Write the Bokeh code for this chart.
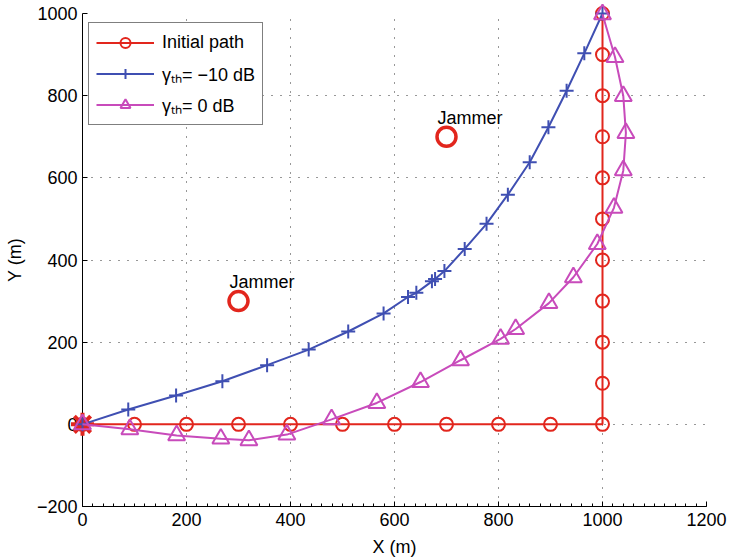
from bokeh.plotting import figure
from bokeh.models import Range1d, FixedTicker, Legend, LegendItem
from bokeh.embed import file_html
from bokeh.resources import INLINE
from bokeh.core.properties import value

# ---------------- data ----------------
init_x = [0, 100, 200, 300, 400, 500, 600, 700, 800, 900, 1000,
          1000, 1000, 1000, 1000, 1000, 1000, 1000, 1000, 1000, 1000]
init_y = [0, 0, 0, 0, 0, 0, 0, 0, 0, 0, 0,
          100, 200, 300, 400, 500, 600, 700, 800, 900, 1000]

m10_x = [0, 88, 180, 269, 355, 435, 511, 579, 626, 642, 672, 678, 696,
         735, 777, 818, 860, 896, 931, 965, 1000]
m10_y = [0, 36, 70, 105, 144, 182, 226, 270, 310, 320, 348, 354, 373,
         427, 488, 559, 638, 723, 812, 903, 1000]

z0_x = [0, 91, 181, 266, 320, 393, 479, 566, 650, 727, 804, 833, 897,
        944, 990, 1022, 1040, 1045, 1040, 1024, 1000]
z0_y = [0, -12, -27, -35, -39, -25, 12, 52, 103, 156, 208, 232, 295,
        358, 439, 527, 618, 709, 799, 894, 998]

start_x = [0]
start_y = [0]

jam_x = [300, 700]
jam_y = [300, 700]
jam_text = ["Jammer", "Jammer"]

x_ticks = [0, 200, 400, 600, 800, 1000, 1200]
y_ticks = [-200, 0, 200, 400, 600, 800, 1000]
y_labels = {-200: "\u2212200"}

labels = ["Initial path", "\u03b3\u209c\u2095= \u221210 dB", "\u03b3\u209c\u2095= 0 dB"]

# ---------------- style ----------------
RED = "#e2261d"
BLUE = "#3f4fb2"
MAG = "#c84bbb"
FONT = "Liberation Sans"

p = figure(width=731, height=559, output_backend="svg", toolbar_location=None,
           x_range=Range1d(0, 1200), y_range=Range1d(-200, 1000),
           min_border_left=82, min_border_right=25, min_border_top=13,
           min_border_bottom=53)
p.outline_line_color = None
p.background_fill_color = "white"
p.border_fill_color = "white"

# axes
p.xaxis.ticker = FixedTicker(ticks=x_ticks, minor_ticks=list(range(0, 1201, 20)))
p.yaxis.ticker = FixedTicker(ticks=y_ticks)
p.yaxis.major_label_overrides = y_labels
for ax in (p.xaxis[0], p.yaxis[0]):
    ax.axis_line_color = "black"
    ax.axis_line_width = 1
    ax.major_tick_in = 5
    ax.major_tick_out = 0
    ax.major_tick_line_color = "black"
    ax.minor_tick_in = 3
    ax.minor_tick_out = 0
    ax.minor_tick_line_color = "black"
    ax.major_label_text_font = FONT
    ax.major_label_text_font_size = "18px"
    ax.major_label_text_color = "black"
    ax.axis_label_text_font = FONT
    ax.axis_label_text_font_size = "18px"
    ax.axis_label_text_font_style = "normal"
    ax.axis_label_text_color = "black"
p.yaxis.minor_tick_line_color = None
p.xaxis.axis_label = "X (m)"
p.yaxis.axis_label = "Y (m)"
p.xaxis.major_label_standoff = 6
p.yaxis.major_label_standoff = 5
p.xaxis.axis_label_standoff = 8
p.yaxis.axis_label_standoff = 9

for g in (p.xgrid[0], p.ygrid[0]):
    g.grid_line_color = "#303030"
    g.grid_line_dash = "1 8"
    g.grid_line_width = 1
p.xgrid.ticker = FixedTicker(ticks=x_ticks)
p.ygrid.ticker = FixedTicker(ticks=y_ticks)

# ---------------- marks ----------------
LV = "overlay"
r_init_l = p.line(init_x, init_y, line_color=RED, line_width=2, level=LV)
r_init_m = p.scatter(init_x, init_y, marker="circle", size=13,
                     line_color=RED, fill_color=None, line_width=2, level=LV)
r_star = p.scatter(start_x, start_y, marker="asterisk", size=23,
                   line_color=RED, line_width=4, level=LV)
r_m10_l = p.line(m10_x, m10_y, line_color=BLUE, line_width=2, level=LV)
r_m10_m = p.scatter(m10_x, m10_y, marker="cross", size=14,
                    line_color=BLUE, line_width=2, level=LV)
r_z0_l = p.line(z0_x, z0_y, line_color=MAG, line_width=2, level=LV)
r_z0_m = p.scatter(z0_x, z0_y, marker="triangle", size=17,
                   line_color=MAG, fill_color=None, line_width=2, level=LV)

p.scatter(jam_x, jam_y, marker="circle", size=19, line_color=RED,
          fill_color=None, line_width=3.5, level=LV)
p.text(jam_x, jam_y, text=jam_text, x_offset=-9, y_offset=-19,
       text_font=value(FONT), text_font_size="18px", text_color="black",
       text_baseline="alphabetic", text_align="left", level=LV)

legend = Legend(items=[
    LegendItem(label=labels[0], renderers=[r_init_l, r_init_m]),
    LegendItem(label=labels[1], renderers=[r_m10_l, r_m10_m]),
    LegendItem(label=labels[2], renderers=[r_z0_l, r_z0_m]),
], location=(6, 381))
legend.label_text_font = FONT
legend.label_text_font_size = "18px"
legend.label_text_color = "black"
legend.border_line_color = "black"
legend.border_line_width = 1
legend.background_fill_color = "white"
legend.background_fill_alpha = 1
legend.glyph_width = 58
legend.glyph_height = 25
legend.label_height = 25
legend.spacing = 6
legend.padding = 7
legend.margin = 0
legend.label_standoff = 8
p.add_layout(legend)

open("out.html", "w").write(file_html(p, INLINE))
